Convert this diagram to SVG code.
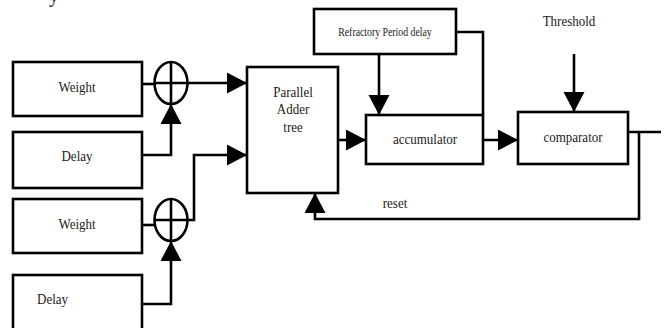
<svg xmlns="http://www.w3.org/2000/svg" width="665" height="328" viewBox="0 0 665 328">
<style>
.box{fill:#fff;stroke:#000;stroke-width:2.6}
.ln{fill:none;stroke:#000;stroke-width:2.6}
.t{font-family:"Liberation Serif","Times New Roman",serif;font-size:13px;fill:#222}
.m{text-anchor:middle}
</style>
<defs>
<marker id="ah" markerUnits="userSpaceOnUse" markerWidth="21" markerHeight="22" refX="20" refY="10.5" orient="auto" viewBox="0 0 21 22">
<path d="M0,0 L20,10.5 L0,21 z" fill="#000"/>
</marker>
</defs>
<rect width="665" height="328" fill="#fff"/>
<text class="t" transform="translate(49 1.5) scale(1 1.2)" style="font-size:20px">y</text>

<g id="weight1"><rect class="box" x="13" y="62" width="129" height="54"/><text class="t m" transform="translate(77 91.5) scale(1 1.2)">Weight</text></g>
<g id="delay1"><rect class="box" x="13" y="132" width="129" height="56"/><text class="t m" transform="translate(77 160.5) scale(1 1.2)">Delay</text></g>
<g id="weight2"><rect class="box" x="13" y="199" width="129" height="54"/><text class="t m" transform="translate(77 229) scale(1 1.2)">Weight</text></g>
<g id="delay2"><rect class="box" x="13" y="275" width="129" height="60"/><text class="t" transform="translate(37 304) scale(1 1.2)">Delay</text></g>
<g id="sum1"><ellipse class="ln" cx="171" cy="83" rx="16.5" ry="21"/><path class="ln" d="M154.5,83 H187.5 M171,62 V104"/></g>
<g id="sum2"><ellipse class="ln" cx="171" cy="220" rx="16.5" ry="21"/><path class="ln" d="M154.5,220 H187.5 M171,199 V241"/></g>
<g id="adder"><rect class="box" x="247" y="67" width="91" height="126"/>
<text class="t m" transform="translate(293 96.5) scale(1 1.2)">Parallel</text>
<text class="t m" transform="translate(293 114) scale(1 1.2)">Adder</text>
<text class="t m" transform="translate(293 131.5) scale(1 1.2)">tree</text></g>
<g id="refractory"><rect class="box" x="314" y="9" width="142" height="45"/><text class="t m" transform="translate(385 35.5) scale(1 1.2)" style="font-size:9.8px">Refractory Period delay</text></g>
<g id="accumulator"><rect class="box" x="366" y="115" width="117" height="49"/><text class="t m" transform="translate(425 144) scale(1 1.2)">accumulator</text></g>
<g id="comparator"><rect class="box" x="518" y="112" width="110" height="52"/><text class="t m" transform="translate(573 142) scale(1 1.2)">comparator</text></g>
<g id="threshold"><text class="t m" transform="translate(569 26) scale(1 1.2)">Threshold</text></g>

<g id="connectors">
<path class="ln" d="M142,84 H154.5"/>
<path class="ln" d="M187.5,83 H247" marker-end="url(#ah)"/>
<path class="ln" d="M142,155 H171 V104" marker-end="url(#ah)"/>
<path class="ln" d="M187.5,220 H194 V155 H247" marker-end="url(#ah)"/>
<path class="ln" d="M142,225 H154.5"/>
<path class="ln" d="M142,304 H171 V241" marker-end="url(#ah)"/>
<path class="ln" d="M338,140 H366" marker-end="url(#ah)"/>
<path class="ln" d="M379,54 V115" marker-end="url(#ah)"/>
<path class="ln" d="M456,32 H483 V115"/>
<path class="ln" d="M483,140 H518" marker-end="url(#ah)"/>
<path class="ln" d="M574,54 V112" marker-end="url(#ah)"/>
<path class="ln" d="M628,132 H661"/>
<path class="ln" d="M639,132 V219 H315 V193" marker-end="url(#ah)"/>
<text class="t m" transform="translate(395 208) scale(1 1.2)">reset</text>
</g>
</svg>
